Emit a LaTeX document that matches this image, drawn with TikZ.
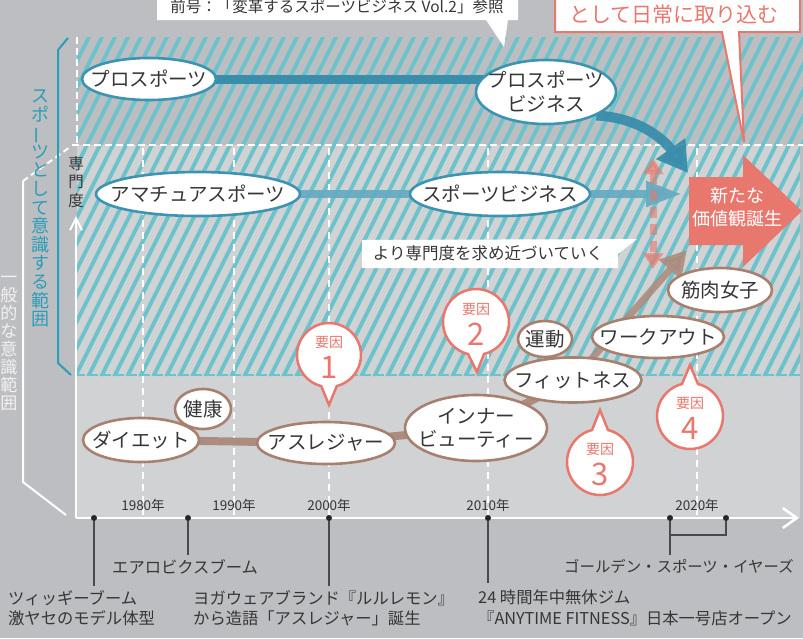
\documentclass[tikz,border=0pt]{standalone}
\usepackage{fontspec}
\setmainfont{Noto Sans CJK JP}
\usepackage{graphicx}
\usetikzlibrary{arrows.meta,shapes.geometric}
\definecolor{bgG}{HTML}{BDBEC1}
\definecolor{panelG}{HTML}{D1D2D4}
\definecolor{hatchC}{HTML}{6CC3CB}
\definecolor{tealD}{HTML}{3A8DAB}
\definecolor{tealL}{HTML}{64AAC0}
\definecolor{tealE}{HTML}{3D93B0}
\definecolor{cyanT}{HTML}{2A9DB8}
\definecolor{pinkP}{HTML}{E8786D}
\definecolor{brownE}{HTML}{A7806F}
\definecolor{brownL}{HTML}{AC8C7E}
\definecolor{txt}{HTML}{363636}
\definecolor{leadC}{HTML}{4A4A4A}
\pgfdeclarelayer{bg}\pgfdeclarelayer{mid}\pgfsetlayers{bg,mid,main}
\tikzset{
  tel/.style={ellipse, draw=tealE, line width=2.6pt, fill=white, inner sep=0pt},
  bel/.style={ellipse, draw=brownE, line width=2.6pt, fill=white, inner sep=0pt},
  etx/.style={inner sep=0pt, text=txt, align=center, font=\fontsize{19.5}{24}\selectfont},
  lbl/.style={inner sep=0pt, text=txt, align=left, anchor=west, font=\fontsize{16.3}{20.5}\selectfont},
  yr/.style={inner sep=0pt, text=txt, font=\fontsize{13.5}{14}\selectfont},
  yrgrid/.style={white, line width=1.5pt, dash pattern=on 7pt off 5pt},
  bub/.style={draw=pinkP, line width=2.5pt, fill=white},
  bubsmall/.style={inner sep=0pt, text=pinkP, font=\fontsize{14}{15}\selectfont},
  bubnum/.style={inner sep=0pt, text=pinkP, font=\fontsize{31}{32}\selectfont},
  bubhold/.style={circle, minimum size=66pt, inner sep=0pt},
  tdot/.style={circle, fill=black!85, inner sep=0pt, minimum size=6pt},
  leader/.style={leadC, line width=1.3pt},
}
\begin{document}
\begin{tikzpicture}[x=1pt,y=-1pt]
\useasboundingbox (0,0) rectangle (803,638);
% ---------- background ----------
\begin{pgfonlayer}{bg}
\fill[bgG] (0,0) rectangle (803,638);
\fill[panelG] (77,145) rectangle (800,518);
\begin{scope}
  \clip (77,37) rectangle (803,145) (77,145) rectangle (800,376);
  \foreach \i in {0,...,73}
    \draw[hatchC, line width=4pt] ({-120+13*\i},377) -- ({-120+13*\i+171},35);
\end{scope}
\draw[hatchC, line width=1.5pt, dash pattern=on 8pt off 5pt] (77,375) -- (800,375);
\foreach \x in {143,234,329,488,697}
  \draw[yrgrid] (\x,148) -- (\x,516);
\draw[white, line width=1.6pt, dash pattern=on 7pt off 4pt] (72,145) -- (803,145);
\draw[white, line width=1.6pt, dash pattern=on 7pt off 4pt] (77,37) -- (77,145);
\draw[white, line width=2pt] (66,515) -- (23,482) -- (23,181);
\draw[white, line width=2pt, dash pattern=on 6pt off 4pt] (23,181) -- (70,147);
\draw[cyanT, line width=2pt] (68,38) -- (58,50) -- (58,363) -- (71,375);
\end{pgfonlayer}

% ---------- left labels ----------
\node[text=cyanT, font=\fontsize{18}{18.6}\selectfont, align=center, inner sep=0pt] (sportsrange) at (40,208.5)
  {ス\\ポ\\\smash{\rotatebox[origin=c]{90}{ー}}\\ツ\\と\\し\\て\\意\\識\\す\\る\\範\\囲};
\node[text=white!95!black, font=\fontsize{17}{18.1}\selectfont, align=center, inner sep=0pt] (generalrange) at (9,343.5)
  {一\\般\\的\\な\\意\\識\\範\\囲};
\node[text=txt, font=\fontsize{15.5}{18.5}\selectfont, align=center, inner sep=0pt] (senmon) at (76,182) {専\\門\\度};

% ---------- axes ----------
\coordinate (o) at (76,518);
\coordinate (xe) at (799,518);
\coordinate (ye) at (76,216);
\draw[white, line width=2.6pt, -{Straight Barb[length=14pt,width=20pt]}] (o) -- (xe);
\draw[white, line width=2pt, -{Straight Barb[length=12pt,width=12pt]}] (o) -- (ye);

\node[yr] (y1980) at (143,505) {1980年};
\node[yr] (y1990) at (234,505) {1990年};
\node[yr] (y2000) at (329,505) {2000年};
\node[yr] (y2010) at (488,505) {2010年};
\node[yr] (y2020) at (697,505) {2020年};

% ---------- timeline markers ----------
\node[tdot] (m1) at (94,518) {};
\node[tdot] (m2) at (188,518) {};
\node[tdot] (m3) at (329,518) {};
\node[tdot] (m4) at (488,518) {};
\node[tdot] (m5) at (670,518) {};
\node[tdot] (m6) at (726,518) {};
\coordinate (m1e) at (94,586);
\coordinate (m2e) at (188,555);
\coordinate (m3e) at (329,586);
\coordinate (m4e) at (488,583);
\coordinate (m5e) at (670,555);
\coordinate (br) at (670,535);
\draw[leader] (m1) -- (m1e);
\draw[leader] (m2) -- (m2e);
\draw[leader] (m3) -- (m3e);
\draw[leader] (m4) -- (m4e);
\draw[leader] (m5) -- (m5e);
\draw[leader] (m6) |- (br);

\node[lbl] (l1) at (8,608) {ツィッギーブーム\\激ヤセのモデル体型};
\node[lbl] (l2) at (112,567) {エアロビクスブーム};
\node[lbl] (l3) at (193,608) {ヨガウェアブランド『ルルレモン』\\から造語「アスレジャー」誕生};
\node[lbl] (l4) at (478,608) {24 時間年中無休ジム\\『ANYTIME FITNESS』日本一号店オープン};
\node[lbl, font=\fontsize{15.4}{18}\selectfont] (l5) at (564,566) {ゴールデン・スポーツ・イヤーズ};

% ---------- top callouts ----------
\fill[white] (157,-5) -- (157,20) -- (486,20) -- (504,47) -- (508,20) -- (518,20) -- (518,-5) -- cycle;
\node[inner sep=0pt, text=txt, font=\fontsize{15.5}{16}\selectfont] (prev) at (337,7) {前号：「変革するスポーツビジネス Vol.2」参照};
\draw[pinkP, line width=2pt, fill=white] (555,-5) -- (555,32) -- (722,32) -- (744,142) -- (739,32) -- (800,32) -- (800,-5);
\node[inner sep=0pt, text=pinkP, font=\fontsize{21}{22}\selectfont] (daily) at (674,15) {として日常に取り込む};

% ---------- new value arrow ----------
\fill[pinkP] (689,177) -- (743,177) -- (743,155) -- (802,211) -- (743,267) -- (743,245) -- (689,245) -- cycle;
\node[text=white, font=\fontsize{18}{23}\selectfont, align=center, inner sep=0pt] (newval) at (737,207) {新たな\\価値観誕生};
\coordinate (tA) at (688,173);
\coordinate (tB) at (682,194);
\coordinate (tC) at (687,250);
\coordinate (dT) at (653,158);
\coordinate (dB) at (653,269);

% ---------- callout より専門度 ----------
\fill[white] (362,240) -- (637,239) -- (618,254) -- (618,268) -- (362,268) -- cycle;
\node[inner sep=0pt, text=txt, font=\fontsize{16.5}{17}\selectfont] (closer) at (488,253) {より専門度を求め近づいていく};

% ---------- teal ellipses ----------
\node[tel, minimum width=134pt, minimum height=42pt] (pro) at (149,79) {};
\node[etx] (pro-t) at (pro) {プロスポーツ};
\node[tel, minimum width=140pt, minimum height=64pt] (probiz) at (546,92) {};
\node[etx] (probiz-t) at (probiz) {プロスポーツ\\ビジネス};
\node[tel, minimum width=204pt, minimum height=44pt] (ama) at (198,194) {};
\node[etx] (ama-t) at (ama) {アマチュアスポーツ};
\node[tel, minimum width=180pt, minimum height=44pt] (sbiz) at (500,194) {};
\node[etx] (sbiz-t) at (sbiz) {スポーツビジネス};

% ---------- brown ellipses ----------
\node[bel, minimum width=56pt, minimum height=40pt] (kenko) at (203,409) {};
\node[etx] (kenko-t) at (kenko) {健康};
\node[bel, minimum width=116pt, minimum height=44pt] (diet) at (141,440) {};
\node[etx] (diet-t) at (diet) {ダイエット};
\node[bel, minimum width=138pt, minimum height=42pt] (ath) at (326,443) {};
\node[etx] (ath-t) at (ath) {アスレジャー};
\node[bel, minimum width=142pt, minimum height=66pt] (inner) at (476,428) {};
\node[etx, font=\fontsize{19.5}{23}\selectfont] (inner-t) at (inner) {インナー\\ビューティー};
\node[bel, minimum width=54pt, minimum height=36pt] (undo) at (545,339) {};
\node[etx] (undo-t) at (undo) {運動};
\node[bel, minimum width=132pt, minimum height=42pt] (work) at (658,337) {};
\node[etx] (work-t) at (work) {ワークアウト};
\node[bel, minimum width=137pt, minimum height=45pt] (fit) at (573,380) {};
\node[etx] (fit-t) at (fit) {フィットネス};
\node[bel, minimum width=104pt, minimum height=44pt] (kin) at (720,290) {};
\node[etx] (kin-t) at (kin) {筋肉女子};

% ---------- connectors ----------
\begin{pgfonlayer}{mid}
\draw[tealD, line width=9pt] (pro.center) -- (pro.center -| probiz.center);
\draw[tealD, opacity=.95, line width=10pt, -{Triangle[length=30pt,width=34pt]}] (probiz.-25) .. controls (645,118) and (668,145) .. (tA);
\draw[tealL, opacity=.9, line width=8pt] (ama.center) -- (sbiz.center);
\draw[tealL, opacity=.9, line width=8pt, -{Triangle[length=36pt,width=24pt]}] (sbiz) -- (tB);
\draw[pinkP, opacity=.6, line width=7pt, dash pattern=on 11pt off 6pt, {Triangle[length=16pt,width=20pt]}-{Triangle[length=16pt,width=20pt]}] (dT) -- (dB);
\draw[brownL, line width=8pt] (diet.center) -- (ath.center);
\draw[brownL, line width=8pt] (ath.center) -- (inner.center);
\draw[brownL, line width=8pt] (inner.center) -- (fit.center);
\draw[brownL, opacity=.88, line width=7pt, -{Triangle[length=26pt,width=28pt]}] (fit.center) -- (tC);
\end{pgfonlayer}

% ---------- factor bubbles ----------
\node[bubhold] (f1) at (329,355) {};
\node[bubhold] (f2) at (476,322) {};
\node[bubhold] (f3) at (600,462) {};
\node[bubhold] (f4) at (690,416) {};
\coordinate (f1tip) at (329,405);
\coordinate (f2tip) at (477,372);
\coordinate (f3tip) at (600,410);
\coordinate (f4tip) at (690,365);
\path[bub] (f1.center) ++(104:32) arc[start angle=104, end angle=436, radius=32] -- (f1tip) -- cycle;
\path[bub] (f2.center) ++(104:33) arc[start angle=104, end angle=436, radius=33] -- (f2tip) -- cycle;
\path[bub] (f3.center) ++(-76:33) arc[start angle=-76, end angle=256, radius=33] -- (f3tip) -- cycle;
\path[bub] (f4.center) ++(-76:33) arc[start angle=-76, end angle=256, radius=33] -- (f4tip) -- cycle;
\foreach \f/\n in {f1/1,f2/2,f3/3,f4/4}{
  \node[bubsmall] (\f-a) at ([yshift=13pt]\f.center) {要因};
  \node[bubnum] (\f-b) at ([yshift=-12pt]\f.center) {\n};
}
\end{tikzpicture}
\end{document}
